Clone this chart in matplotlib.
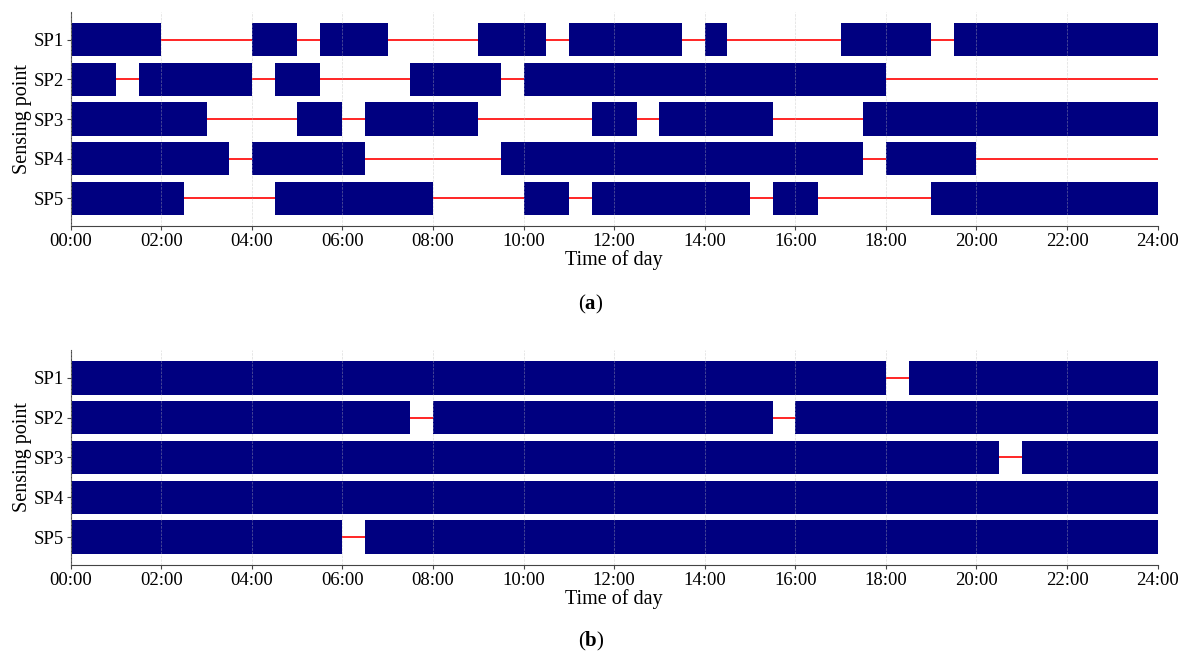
import matplotlib
matplotlib.use('Agg')
import matplotlib.pyplot as plt

plt.rcParams['font.family'] = ['Liberation Serif', 'DejaVu Serif']
plt.rcParams['mathtext.fontset'] = 'custom'
plt.rcParams['mathtext.rm'] = 'Liberation Serif'
plt.rcParams['mathtext.bf'] = 'Liberation Serif:bold'

points = ['SP1', 'SP2', 'SP3', 'SP4', 'SP5']
hour_ticks = list(range(0, 25, 2))
hour_labels = ['%02d:00' % h for h in hour_ticks]

# active intervals (start hour, end hour) per sensing point
active_a = [
    [(0, 2), (4, 5), (5.5, 7), (9, 10.5), (11, 13.5), (14, 14.5), (17, 19), (19.5, 24)],
    [(0, 1), (1.5, 4), (4.5, 5.5), (7.5, 9.5), (10, 18)],
    [(0, 3), (5, 6), (6.5, 9), (11.5, 12.5), (13, 15.5), (17.5, 24)],
    [(0, 3.5), (4, 6.5), (9.5, 17.5), (18, 20)],
    [(0, 2.5), (4.5, 8), (10, 11), (11.5, 15), (15.5, 16.5), (19, 24)],
]
active_b = [
    [(0, 18), (18.5, 24)],
    [(0, 7.5), (8, 15.5), (16, 24)],
    [(0, 20.5), (21, 24)],
    [(0, 24)],
    [(0, 6), (6.5, 24)],
]

fig = plt.figure(figsize=(11.8, 6.54), dpi=100)
ax1 = fig.add_axes([0.060, 0.654, 0.921, 0.328])
ax2 = fig.add_axes([0.060, 0.136, 0.921, 0.329])


def draw(ax, data):
    for i, spans in enumerate(data):
        y = i + 1
        ax.plot([0, 24], [y, y], color='red', lw=1.2, zorder=1)
        ax.broken_barh([(s, e - s) for s, e in spans], (y - 0.42, 0.84),
                       facecolor='#000080', edgecolor='none', zorder=2)
    ax.set_xlim(0, 24)
    ax.set_ylim(5.7, 0.3)
    ax.set_yticks(range(1, 6))
    ax.set_yticklabels(points)
    ax.set_xticks(hour_ticks)
    ax.set_xticklabels(hour_labels)
    ax.grid(axis='x', color='#bbbbbb', ls='--', lw=0.5, alpha=0.5, zorder=3)
    ax.set_axisbelow(False)
    ax.spines['top'].set_visible(False)
    ax.spines['right'].set_visible(False)
    ax.spines['left'].set_color('#444444')
    ax.spines['bottom'].set_color('#444444')
    ax.tick_params(labelsize=13.5, length=3, color='#444444', pad=2)
    ax.set_xlabel('Time of day', fontsize=14.5, labelpad=0)
    ax.set_ylabel('Sensing point', fontsize=14.5, labelpad=1)


draw(ax1, active_a)
draw(ax2, active_b)

fig.text(0.501, 0.534, r'($\mathbf{a}$)', ha='center', va='center', fontsize=15)
fig.text(0.501, 0.019, r'($\mathbf{b}$)', ha='center', va='center', fontsize=15)

plt.savefig('out.png', dpi=100)
